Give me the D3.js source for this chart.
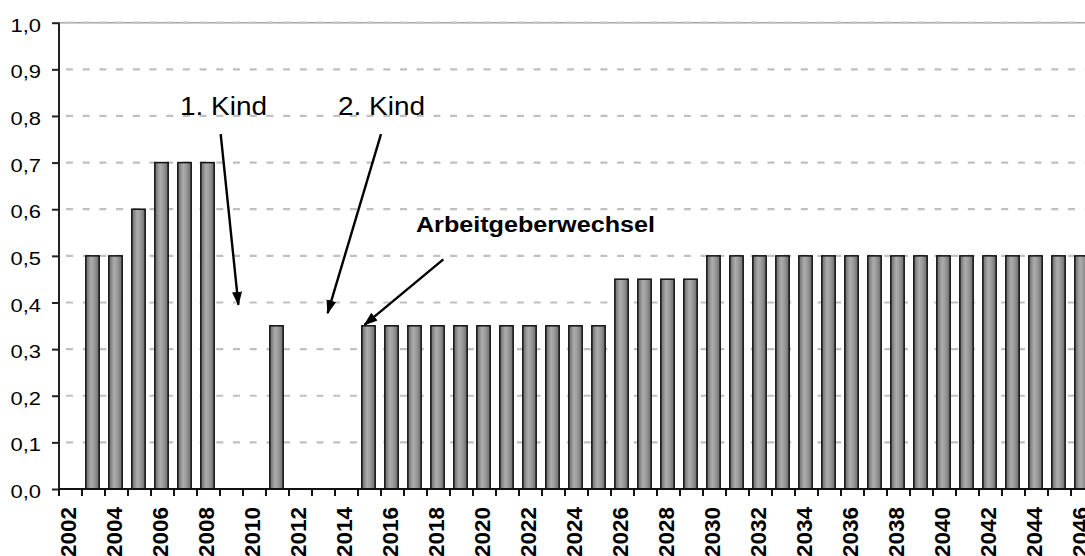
<!DOCTYPE html>
<html><head><meta charset="utf-8">
<script src="https://cdn.jsdelivr.net/npm/d3@7"></script>
<style>
body{margin:0;background:#fff;overflow:hidden}
svg{display:block}
</style>
</head><body>
<svg id="c" width="1085" height="556"></svg>
<script>
// ---- data ----
const years = [2002,2003,2004,2005,2006,2007,2008,2009,2010,2011,2012,2013,2014,2015,2016,2017,2018,2019,2020,2021,2022,2023,2024,2025,2026,2027,2028,2029,2030,2031,2032,2033,2034,2035,2036,2037,2038,2039,2040,2041,2042,2043,2044,2045,2046];
const values = [0,0.5,0.5,0.6,0.7,0.7,0.7,0,0,0.35,0,0,0,0.35,0.35,0.35,0.35,0.35,0.35,0.35,0.35,0.35,0.35,0.35,0.45,0.45,0.45,0.45,0.5,0.5,0.5,0.5,0.5,0.5,0.5,0.5,0.5,0.5,0.5,0.5,0.5,0.5,0.5,0.5,0.5];
const yTicks = [0,0.1,0.2,0.3,0.4,0.5,0.6,0.7,0.8,0.9,1.0];
const xTickLabels = [2002,2004,2006,2008,2010,2012,2014,2016,2018,2020,2022,2024,2026,2028,2030,2032,2034,2036,2038,2040,2042,2044,2046];
const annotationTexts = ["1. Kind","2. Kind","Arbeitgeberwechsel"];
// annotation anchors in data units (year, value)
const annotationAt = [[2006.76,0.802],[2013.63,0.802],[2017.02,0.551]];
const arrowFrom = [[2008.53,0.761],[2015.5,0.761],[2018.21,0.4926]];
const arrowTo   = [[2009.3,0.395],[2013.18,0.377],[2014.78,0.352]];

// ---- layout ----
const mLeft = 59, slot = 23.0, mTop = 22.7, mBottom = 489;
const mRight = mLeft + years.length*slot;
const svg = d3.select("#c");
const x = d3.scaleBand().domain(years).range([mLeft, mRight]).paddingInner(0.42).paddingOuter(0.21);
const xc = d3.scaleLinear().domain([years[0]-0.5, years[years.length-1]+0.5]).range([mLeft, mRight]);
const y = d3.scaleLinear().domain([0,1]).range([mBottom, mTop]);
const loc = d3.formatLocale({decimal:",",thousands:".",grouping:[3],currency:["","€"]});
const fmt = loc.format(".1f");

// gradient
const defs = svg.append("defs");
const g = defs.append("linearGradient").attr("id","barg").attr("x1","0").attr("x2","1").attr("y1","0").attr("y2","0");
[["0%","#666666"],["12%","#7e7e7e"],["40%","#adadad"],["65%","#999999"],["100%","#6a6a6a"]]
  .forEach(s=>g.append("stop").attr("offset",s[0]).attr("stop-color",s[1]));
defs.append("marker").attr("id","ah").attr("markerUnits","userSpaceOnUse")
  .attr("viewBox","0 0 14 10").attr("refX",13).attr("refY",5)
  .attr("markerWidth",14).attr("markerHeight",10).attr("orient","auto")
  .append("path").attr("d","M0,0 L14,5 L0,10 Z").attr("fill","#000");

// gridlines
svg.append("g").selectAll("line").data(yTicks.filter(d=>d>0)).join("line")
  .attr("x1",mLeft).attr("x2",mRight)
  .attr("y1",d=>y(d)).attr("y2",d=>y(d))
  .attr("stroke",d=>d===1?"#a6a6a6":"#c0c0c0")
  .attr("stroke-width",d=>d===1?1.5:2.2)
  .attr("stroke-dasharray",d=>d===1?null:"7,9.7")
  .attr("stroke-dashoffset",-7);
svg.append("line").attr("x1",mLeft).attr("x2",mRight).attr("y1",y(1)).attr("y2",y(1))
  .attr("stroke","#c4c4c4").attr("stroke-width",2.2).attr("stroke-dasharray","7,9.7").attr("stroke-dashoffset",-7);

// bars
svg.append("g").selectAll("rect").data(years.map((yr,i)=>({yr,v:values[i]})).filter(d=>d.v>0)).join("rect")
  .attr("x",d=>x(d.yr)-1).attr("width",x.bandwidth())
  .attr("y",d=>y(d.v)).attr("height",d=>y(0)-y(d.v))
  .attr("fill","url(#barg)").attr("stroke","#111").attr("stroke-width",1.5);

// y axis
const ya = svg.append("g").attr("transform",`translate(${mLeft},0)`)
  .call(d3.axisLeft(y).tickValues(yTicks).tickFormat(fmt).tickSize(7).tickPadding(11));
ya.select(".domain").attr("stroke","#222").attr("stroke-width",2).attr("d",`M0,${mTop}V${mBottom}`);
ya.selectAll(".tick line").attr("stroke","#222").attr("stroke-width",2);
ya.selectAll(".tick text").attr("font-family","Liberation Sans, Arial, sans-serif").attr("font-size",19)
  .attr("fill","#000").attr("dy","0.45em").attr("textLength",30.5).attr("lengthAdjust","spacingAndGlyphs");

// x axis line and boundary ticks
svg.append("line").attr("x1",mLeft).attr("x2",mRight).attr("y1",mBottom).attr("y2",mBottom).attr("stroke","#111").attr("stroke-width",2);
svg.append("g").selectAll("line").data(years).join("line")
  .attr("x1",d=>xc(d-0.5)).attr("x2",d=>xc(d-0.5)).attr("y1",mBottom).attr("y2",mBottom+7)
  .attr("stroke","#111").attr("stroke-width",2);

// x labels
const xa = svg.append("g").attr("transform",`translate(0,${mBottom})`)
  .call(d3.axisBottom(x).tickValues(xTickLabels).tickSize(0));
xa.select(".domain").remove();
xa.selectAll(".tick text")
  .attr("font-family","Liberation Sans, Arial, sans-serif").attr("font-size",22.5).attr("font-weight","bold").attr("fill","#000")
  .attr("text-anchor","end").attr("transform","rotate(-90)")
  .attr("x",-18).attr("y",-2.5).attr("dy","0.36em");

// annotations
const ann = svg.append("g").attr("font-family","Liberation Sans, Arial, sans-serif").attr("fill","#000");
annotationTexts.forEach((t,i)=>{
  const bold = i===2;
  ann.append("text").attr("x",xc(annotationAt[i][0])).attr("y",y(annotationAt[i][1]))
    .attr("font-size",bold?22:25.5).attr("font-weight",bold?"bold":"normal")
    .attr("textLength",bold?239:87).attr("lengthAdjust","spacingAndGlyphs").text(t);
  svg.append("line").attr("x1",xc(arrowFrom[i][0])).attr("y1",y(arrowFrom[i][1]))
    .attr("x2",xc(arrowTo[i][0])).attr("y2",y(arrowTo[i][1]))
    .attr("stroke","#000").attr("stroke-width",2.4).attr("marker-end","url(#ah)");
});
</script>
</body></html>
